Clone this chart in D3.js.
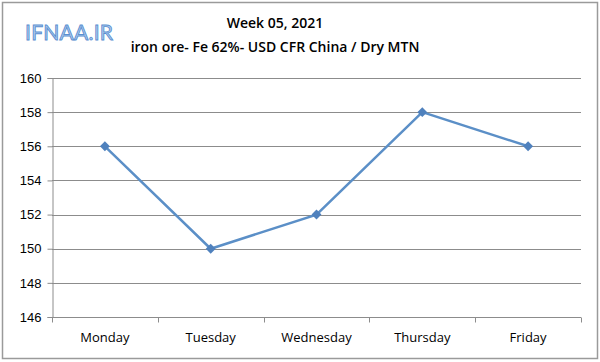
<!DOCTYPE html>
<html lang="en">
<head>
    <meta charset="UTF-8">
    <title>Week 05, 2021 - iron ore</title>
    <script src="https://d3js.org/d3.v7.min.js"></script>
    <style>
        body {
            margin: 0;
            padding: 0;
            background: #fff;
            overflow: hidden;
        }
        svg {
            display: block;
            font-family: "Open Sans", "Liberation Sans", sans-serif;
        }
        .title {
            font-size: 14px;
            font-weight: 600;
            fill: #000;
        }
        .tick text {
            font-size: 13px;
            fill: #000;
        }
    </style>
</head>
<body>
    <svg id="chart" width="600" height="362"></svg>
    <script>
        // chart data
        var days = ['Monday', 'Tuesday', 'Wednesday', 'Thursday', 'Friday'];
        var prices = [156, 150, 152, 158, 156];
        var yTicks = [146, 148, 150, 152, 154, 156, 158, 160];

        var width = 600, height = 362;
        var margin = { top: 78, right: 19, bottom: 45, left: 52 };

        var svg = d3.select('#chart');

        // outer frame
        svg.append('rect')
            .attr('x', 2.5).attr('y', 2.5)
            .attr('width', width - 5).attr('height', height - 6)
            .attr('fill', '#fff')
            .attr('stroke', '#9a9a9a')
            .attr('stroke-width', 1.5);

        var x = d3.scaleBand()
            .domain(days)
            .range([margin.left, width - margin.right]);

        var y = d3.scaleLinear()
            .domain([146, 160])
            .range([height - margin.bottom, margin.top]);

        // gridlines
        svg.append('g')
            .selectAll('line')
            .data(yTicks.slice(1))
            .enter().append('line')
            .attr('x1', margin.left)
            .attr('x2', width - margin.right)
            .attr('y1', function(d) { return Math.round(y(d)) + 0.5; })
            .attr('y2', function(d) { return Math.round(y(d)) + 0.5; })
            .attr('stroke', '#8c8c8c')
            .attr('stroke-width', 1);

        // y axis
        var yAxis = svg.append('g')
            .attr('transform', 'translate(' + (margin.left + 0.5) + ',0)')
            .call(d3.axisLeft(y).tickValues(yTicks).tickSize(5).tickPadding(6));
        yAxis.select('.domain').attr('stroke', '#8c8c8c');
        yAxis.selectAll('.tick line').attr('stroke', '#8c8c8c');

        // x axis with tick marks between categories
        var xAxisY = Math.round(y(146)) + 0.5;
        svg.append('line')
            .attr('x1', margin.left).attr('x2', width - margin.right)
            .attr('y1', xAxisY).attr('y2', xAxisY)
            .attr('stroke', '#8c8c8c');

        var bounds = days.map(function(d) { return x(d); }).concat([x.range()[1]]);
        svg.append('g')
            .selectAll('line')
            .data(bounds)
            .enter().append('line')
            .attr('x1', function(d) { return Math.round(d) + 0.5; })
            .attr('x2', function(d) { return Math.round(d) + 0.5; })
            .attr('y1', xAxisY).attr('y2', xAxisY + 5)
            .attr('stroke', '#8c8c8c');

        svg.append('g')
            .selectAll('text')
            .data(days)
            .enter().append('text')
            .attr('x', function(d) { return x(d) + x.bandwidth() / 2; })
            .attr('y', xAxisY + 24)
            .attr('text-anchor', 'middle')
            .attr('font-size', 13)
            .text(function(d) { return d; });

        // line series
        var line = d3.line()
            .x(function(d, i) { return x(days[i]) + x.bandwidth() / 2; })
            .y(function(d) { return y(d); });

        svg.append('path')
            .datum(prices)
            .attr('d', line)
            .attr('fill', 'none')
            .attr('stroke', '#5b8fc7')
            .attr('stroke-width', 2.5);

        // diamond markers (rotated squares)
        svg.append('g')
            .selectAll('rect')
            .data(prices)
            .enter().append('rect')
            .attr('x', -3.5).attr('y', -3.5)
            .attr('width', 7).attr('height', 7)
            .attr('transform', function(d, i) {
                return 'translate(' + (x(days[i]) + x.bandwidth() / 2) + ',' + y(d) + ') rotate(45)';
            })
            .attr('fill', '#4f81bd');

        // titles
        svg.append('text')
            .attr('class', 'title')
            .attr('x', 275).attr('y', 28)
            .attr('text-anchor', 'middle')
            .text('Week 05, 2021');
        svg.append('text')
            .attr('class', 'title')
            .attr('x', 275).attr('y', 52)
            .attr('text-anchor', 'middle')
            .text('iron ore- Fe 62%- USD CFR China / Dry MTN');

        // logo
        svg.append('text')
            .attr('x', 25).attr('y', 40)
            .attr('font-size', 21)
            .attr('font-family', 'Lato, sans-serif')
            .attr('fill', '#b3cff0')
            .attr('stroke', '#5b8fd0')
            .attr('stroke-width', 0.9)
            .attr('textLength', 88)
            .text('IFNAA.IR');
    </script>
</body>
</html>
